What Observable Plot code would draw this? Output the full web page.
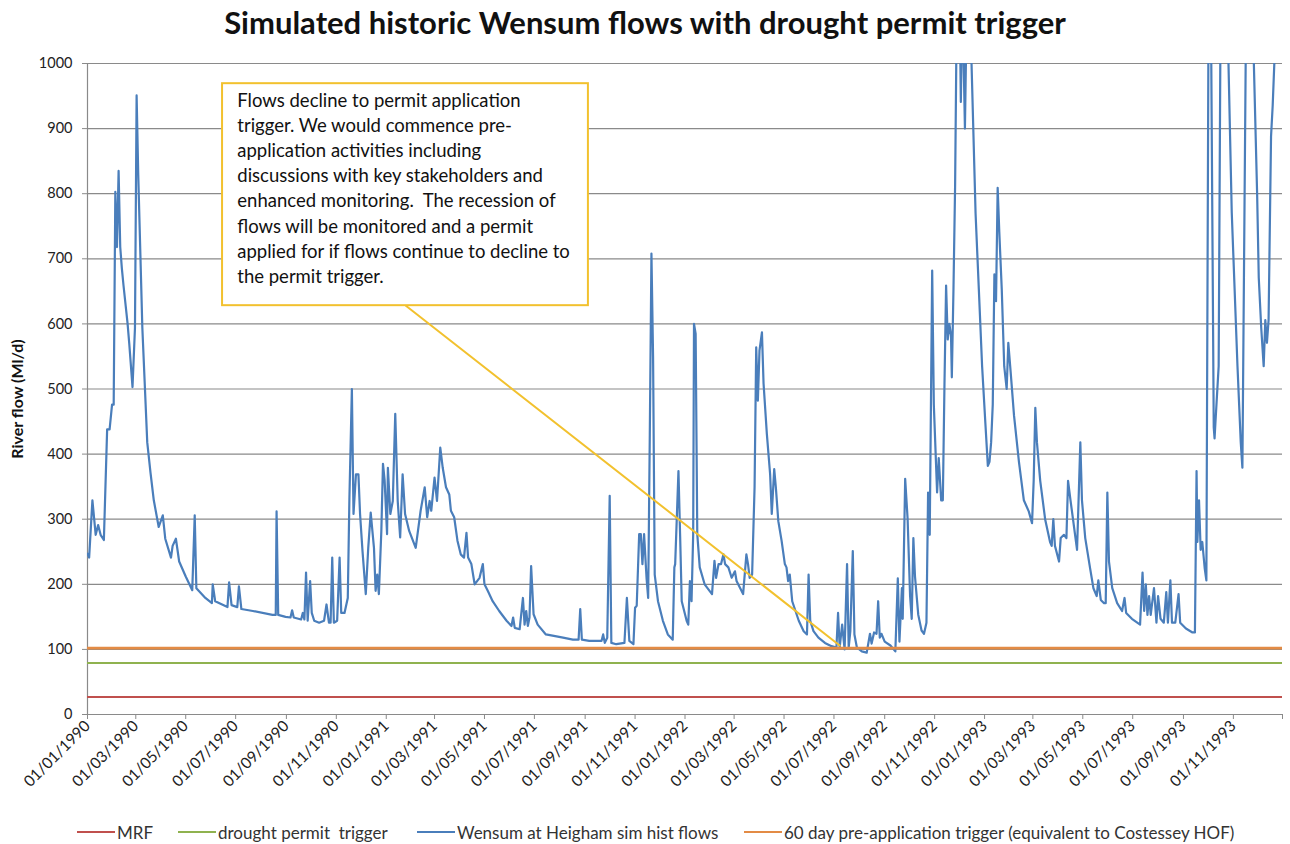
<!DOCTYPE html>
<html><head><meta charset="utf-8">
<script src="https://cdn.jsdelivr.net/npm/d3@7"></script>
<script src="https://cdn.jsdelivr.net/npm/@observablehq/plot@0.6"></script>
<style>
body{margin:0;background:#fff;font-family:Lato,"Open Sans",sans-serif;}
#wrap{position:relative;width:1290px;height:844px;overflow:hidden;background:#fff;}
#title{position:absolute;left:0;top:3px;width:1290px;text-align:center;font-weight:700;font-size:31px;line-height:38px;color:#111;}
#chart{position:absolute;left:0;top:48px;}
.leg{position:absolute;top:820px;height:24px;display:flex;align-items:center;font-size:17px;color:#333;white-space:pre;}
.sw{width:38px;height:2px;margin-right:2px;}
</style></head>
<body><div id="wrap"><div id="title">Simulated historic Wensum flows with drought permit trigger</div><div id="chart"></div></div>
<script>
// ---- data (days since 01/01/1990, flow in Ml/d) ----
const flowDay = [0,2,6,10,13,16,20,24,27,30,32,34,36,38,40,42,44,49,51,55,58,60,62,67,73,77,81,87,92,95,102,104,108,112,120,128,131,133,144,152,153,156,171,173,176,183,185,188,202,226,230,231,233,242,
248,250,252,261,263,265,267,269,272,274,277,283,289,292,295,297,299,301,305,308,310,314,318,320,323,325,328,331,333,336,340,343,346,350,352,354,356,359,361,363,366,367,370,373,376,379,382,385,388,393,401,407,412,415,418,420,424,427,431,434,438,442,444,448,452,456,460,463,465,469,473,
479,483,485,489,495,503,512,518,520,522,528,532,534,536,538,540,542,545,550,560,573,581,593,600,602,604,613,628,630,632,635,638,640,646,656,659,662,667,669,671,674,676,678,680,683,685,687,689,691,693,697,703,709,715,
717,718,722,724,726,732,734,736,738,740,741,743,745,748,754,760,763,766,768,771,774,777,779,783,787,791,793,797,801,805,807,809,812,815,817,819,821,824,826,830,834,836,839,841,844,848,852,854,856,858,861,865,869,875,879,881,883,887,893,901,909,915,917,919,922,925,928,930,932,935,937,940,946,952,
956,958,961,964,966,968,970,974,981,987,990,992,995,996,999,1002,1005,1007,1009,1011,1015,1019,1022,1025,1027,1029,1032,1034,1038,1040,1043,1045,1047,1049,1051,1053,1055,1056,1058,1060,1062,1065,1067,1069,1072,1075,1079,1085,1089,1093,1097,1100,1102,1104,1106,1108,1110,1112,1114,1117,1120,1123,1125,1128,1132,1138,1144,1150,1154,1156,1158,1160,1164,1170,1176,1178,1180,1182,1187,1189,1193,1196,1198,1201,
1209,1213,1215,1219,1225,1229,1233,1235,1238,1242,1244,1246,1248,1252,1258,1264,1267,1269,1276,1286,1289,1291,1293,1295,1297,1299,1303,1306,1308,1311,1315,1318,1320,1323,1325,1329,1333,1335,1342,1350,1353,1355,1356,1358,1360,1362,1365,1367,1370,1373,1376,1377,1378,1382,1384,1388,1394,1398,1405,1409,1411,1415,1420,1425,1429,1431,1434,1437,1439,1441,1443,1446,1448,1450,1460];
const flowValue = [247,241,329,276,291,276,268,438,438,476,476,803,718,835,718,685,659,600,570,503,594,951,829,594,418,371,329,288,306,270,241,259,270,235,212,191,306,194,179,171,200,174,165,203,168,165,197,162,159,153,153,312,153,150,
149,160,149,146,156,146,218,144,205,156,144,141,144,169,141,141,241,141,144,241,156,156,179,333,500,308,369,369,308,251,185,256,310,256,190,215,185,282,385,360,277,379,308,328,462,328,272,369,308,282,256,313,349,303,328,313,364,328,410,379,349,338,313,303,267,246,241,279,241,231,200,
210,231,200,190,174,159,144,136,149,133,131,179,138,159,136,149,228,154,138,123,120,118,115,115,162,115,113,113,123,110,118,336,110,108,110,179,113,108,164,167,277,277,231,277,210,179,431,708,549,215,174,144,123,115,
226,231,374,277,174,144,138,205,174,277,600,585,277,226,200,190,185,236,210,231,231,246,231,226,210,220,205,195,185,246,231,210,215,349,564,482,559,587,508,431,369,308,377,349,297,267,231,226,205,215,174,159,144,128,123,215,144,128,118,110,105,103,156,103,138,100,231,103,128,251,123,103,97,95,
124,109,126,124,174,118,124,112,106,97,209,112,194,147,362,300,182,147,271,212,153,129,124,141,341,276,682,476,341,394,329,329,506,659,576,600,582,518,653,812,1080,1150,941,1100,900,1150,1050,770,653,535,447,382,388,418,476,676,635,809,741,653,535,500,571,524,459,388,329,312,294,359,471,418,359,300,265,259,300,259,235,271,276,271,359,329,
253,418,329,271,224,194,182,206,176,171,171,341,235,194,171,159,179,156,147,138,218,159,200,153,182,153,194,141,182,147,141,188,141,206,141,141,185,141,132,126,126,374,265,329,253,265,224,206,1200,1000,441,424,447,535,1000,1300,1000,771,535,418,379,1000,1350,1000,800,671,594,535,606,571,606,888,935,1000,1150];

const thresholdNames = ["MRF", "drought permit  trigger", "60 day pre-application trigger (equivalent to Costessey HOF)"];
const thresholdValues = [27, 79, 102];
const seriesName = "Wensum at Heigham sim hist flows";
const yLabel = "River flow (Ml/d)";

const xTickLabels = ["01/01/1990","01/03/1990","01/05/1990","01/07/1990","01/09/1990","01/11/1990",
 "01/01/1991","01/03/1991","01/05/1991","01/07/1991","01/09/1991","01/11/1991",
 "01/01/1992","01/03/1992","01/05/1992","01/07/1992","01/09/1992","01/11/1992",
 "01/01/1993","01/03/1993","01/05/1993","01/07/1993","01/09/1993","01/11/1993"];
const yTicks = [0,100,200,300,400,500,600,700,800,900,1000];

const noteLines = ["Flows decline to permit application",
 "trigger. We would commence pre-",
 "application activities including",
 "discussions with key stakeholders and",
 "enhanced monitoring.  The recession of",
 "flows will be monitored and a permit",
 "applied for if flows continue to decline to",
 "the permit trigger."];
const noteBox = {x1: "1990-06-15", x2: "1991-09-05", y1: 628, y2: 969};
const noteTextAt = {x: "1990-07-03", y: 961};
const noteLeader = [{x: "1991-01-25", y: 628}, {x: "1992-07-08", y: 106}];

// ---- styling ----
const colRed = "#c0504d", colGreen = "#8fb24f", colBlue = "#4a7ebb", colOrange = "#e38b45", colNote = "#f2c12e";

const t0 = new Date(Date.UTC(1990, 0, 1));
const tEnd = new Date(Date.UTC(1993, 11, 31));
const parseTick = d3.utcParse("%d/%m/%Y");
const parseIso = d3.utcParse("%Y-%m-%d");
const flows = flowDay.map((d, i) => ({date: d3.utcDay.offset(t0, d), value: flowValue[i]}));
const xTicks = xTickLabels.map(parseTick).concat([tEnd]);

const chart = Plot.plot({
  width: 1290, height: 752,
  marginLeft: 87, marginRight: 8, marginTop: 15, marginBottom: 86,
  style: {fontFamily: "Lato, 'Open Sans', sans-serif", fontSize: "14px", color: "#333", background: "white"},
  x: {type: "utc", domain: [t0, tEnd]},
  y: {domain: [0, 1000]},
  marks: [
    Plot.ruleY(yTicks, {stroke: "#8a8a8a", strokeWidth: 1.2}),
    Plot.ruleX([t0], {stroke: "#8a8a8a", strokeWidth: 1.2}),
    Plot.axisY(yTicks, {tickFormat: d => String(d), tickSize: 5, tickPadding: 10, fontSize: 14.5, stroke: "#8a8a8a", fill: "#222", label: null}),
    Plot.axisX(xTicks, {tickFormat: (d, i) => i < xTickLabels.length ? xTickLabels[i] : "", tickRotate: -45, tickSize: 5, tickPadding: 4, fontSize: 15.5, stroke: "#8a8a8a", fill: "#222", label: null}),
    Plot.text([yLabel], {frameAnchor: "left", textAnchor: "middle", dx: -70, dy: 10, rotate: -90, fontWeight: "bold", fontSize: 16, fill: "#111"}),
    Plot.ruleY([thresholdValues[0]], {stroke: colRed, strokeWidth: 2}),
    Plot.ruleY([thresholdValues[1]], {stroke: colGreen, strokeWidth: 2}),
    Plot.line(flows, {x: "date", y: "value", stroke: colBlue, strokeWidth: 2.2, clip: true}),
    Plot.ruleY([thresholdValues[2]], {stroke: colOrange, strokeWidth: 2.6}),
    Plot.line(noteLeader, {x: d => parseIso(d.x), y: "y", stroke: colNote, strokeWidth: 2}),
    Plot.rect([noteBox], {x1: d => parseIso(d.x1), x2: d => parseIso(d.x2), y1: "y1", y2: "y2", fill: "white", stroke: colNote, strokeWidth: 2}),
    Plot.text([noteLines.join("\n")], {x: () => parseIso(noteTextAt.x), y: () => noteTextAt.y, text: d => d, textAnchor: "start", lineAnchor: "top", lineHeight: 1.36, fontSize: 18.5, fill: "#111"})
  ]
});
document.getElementById("chart").appendChild(chart);

// ---- legend ----
const legendNames = [thresholdNames[0], thresholdNames[1], seriesName, thresholdNames[2]];
const legendColors = [colRed, colGreen, colBlue, colOrange];
const legendLeft = [77, 178, 417, 744];
const wrap = document.getElementById("wrap");
legendNames.forEach((n, i) => {
  const el = document.createElement("div");
  el.className = "leg";
  el.style.left = legendLeft[i] + "px";
  const sw = document.createElement("span");
  sw.className = "sw";
  sw.style.background = legendColors[i];
  const tx = document.createElement("span");
  tx.textContent = n;
  el.appendChild(sw); el.appendChild(tx);
  wrap.appendChild(el);
});
</script>
</body></html>
